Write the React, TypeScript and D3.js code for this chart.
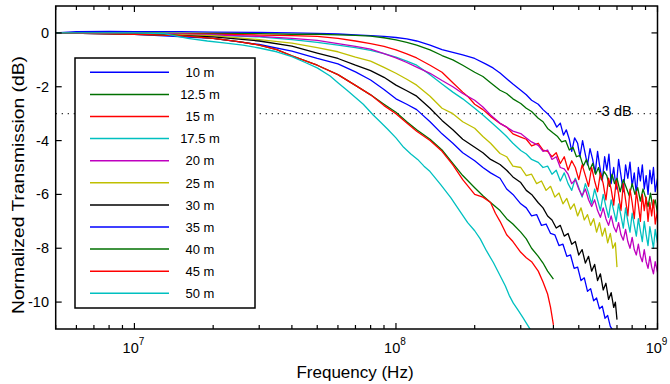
import React from 'react';
import * as d3 from 'd3';

type Pt = [number, number];

// Frequencies in MHz, values in dB
const s10: Pt[] = [[5,0],[6,0.05],[8,0.06],[10,0.05],[15,0.05],[20,0.03],[30,0.02],[40,0],[50,-0.02],[60,-0.04],[70,-0.07],[80,-0.1],[90,-0.13],[100,-0.17],[110,-0.22],[120,-0.3],[135,-0.45],[150,-0.62],[165,-0.72],[180,-0.82],[200,-0.95],[220,-1.15],[235,-1.3],[250,-1.49],[265,-1.7],[280,-1.9],[300,-2.13],[315,-2.3],[330,-2.5],[350,-2.65],[365,-2.85],[380,-3.0],[400,-3.25],[412,-3.5],[425,-3.35],[437,-3.8],[448,-3.6],[460,-3.95],[470,-4.4],[482,-3.9],[495,-4.1],[505,-4.6],[517,-4.0],[528,-4.45],[540,-4.9],[552,-4.3],[565,-4.7],[578,-5.2],[590,-4.4],[600,-4.9],[615,-5.5],[628,-4.6],[640,-5.1],[652,-4.5],[665,-5.6],[680,-5.0],[695,-5.8],[710,-4.7],[725,-5.3],[740,-5.9],[755,-4.9],[770,-5.4],[785,-4.8],[800,-5.7],[815,-5.2],[830,-6.0],[845,-5.0],[860,-5.5],[875,-4.9],[890,-5.8],[905,-5.3],[920,-6.0],[935,-5.1],[950,-5.6],[965,-5.0],[980,-5.9],[1000,-5.4]];
const s12_5: Pt[] = [[5,0],[10,0],[20,-0.02],[30,-0.03],[40,-0.05],[50,-0.05],[60,-0.07],[70,-0.09],[80,-0.12],[90,-0.18],[100,-0.26],[110,-0.35],[120,-0.45],[135,-0.63],[150,-0.84],[165,-1.0],[180,-1.2],[200,-1.46],[215,-1.62],[230,-1.85],[250,-2.13],[265,-2.25],[280,-2.45],[300,-2.62],[315,-2.8],[330,-2.92],[350,-3.17],[365,-3.3],[380,-3.55],[400,-3.73],[415,-3.85],[430,-4.05],[445,-4.0],[460,-4.35],[475,-4.25],[490,-4.6],[505,-4.55],[520,-4.95],[535,-4.7],[550,-5.1],[565,-4.85],[580,-5.25],[595,-5.0],[610,-5.45],[625,-5.15],[640,-5.3],[655,-5.7],[670,-5.25],[685,-5.6],[700,-5.4],[720,-5.9],[740,-5.45],[760,-5.75],[780,-6.05],[800,-5.6],[820,-6.0],[840,-5.75],[860,-6.25],[880,-5.8],[900,-6.1],[920,-6.45],[940,-5.95],[960,-6.5],[980,-6.2],[1000,-6.7]];
const s15: Pt[] = [[5,0],[10,-0.02],[20,-0.05],[30,-0.08],[40,-0.1],[50,-0.13],[60,-0.2],[70,-0.3],[80,-0.4],[90,-0.5],[100,-0.63],[110,-0.78],[120,-0.93],[135,-1.2],[150,-1.46],[165,-1.85],[180,-2.2],[190,-2.4],[200,-2.65],[215,-2.85],[230,-3.1],[250,-3.36],[265,-3.5],[280,-3.75],[300,-3.87],[315,-3.95],[330,-4.2],[350,-4.1],[365,-4.35],[380,-4.4],[395,-4.6],[410,-4.45],[425,-4.85],[440,-4.6],[455,-5.1],[470,-4.75],[485,-5.0],[500,-5.45],[515,-4.9],[530,-5.3],[545,-5.7],[560,-5.0],[575,-5.5],[590,-5.9],[605,-5.2],[620,-5.6],[635,-6.2],[650,-5.4],[665,-5.8],[680,-6.4],[695,-5.5],[710,-6.0],[725,-6.6],[740,-5.6],[755,-6.2],[770,-6.8],[785,-5.8],[800,-6.3],[815,-6.9],[830,-5.9],[845,-6.4],[860,-7.0],[875,-6.0],[890,-6.6],[905,-6.1],[920,-7.0],[935,-6.3],[950,-6.8],[965,-6.2],[980,-7.1],[1000,-6.6]];
const s17_5: Pt[] = [[5,0],[10,-0.02],[20,-0.08],[30,-0.15],[40,-0.25],[50,-0.35],[60,-0.45],[70,-0.55],[80,-0.65],[90,-0.77],[100,-0.9],[110,-1.05],[120,-1.2],[135,-1.55],[150,-1.9],[165,-2.2],[180,-2.45],[200,-2.8],[215,-3.05],[230,-3.3],[250,-3.62],[265,-3.85],[280,-4.1],[300,-4.37],[315,-4.5],[330,-4.7],[350,-4.81],[365,-5.0],[380,-4.95],[395,-5.25],[410,-5.1],[425,-5.5],[440,-5.2],[455,-5.6],[470,-5.85],[485,-5.4],[500,-5.75],[515,-6.1],[530,-5.6],[545,-5.95],[560,-6.35],[575,-5.8],[590,-6.2],[605,-6.6],[620,-6.0],[635,-6.45],[650,-6.85],[665,-6.2],[680,-6.6],[695,-7.0],[710,-6.35],[725,-6.8],[740,-7.25],[755,-6.5],[770,-7.0],[785,-7.4],[800,-6.7],[815,-7.15],[830,-7.55],[845,-6.9],[860,-7.35],[875,-7.75],[890,-7.0],[905,-7.5],[920,-7.9],[935,-7.2],[950,-7.6],[965,-8.0],[980,-7.3],[1000,-7.8]];
const s20: Pt[] = [[5,0],[10,-0.02],[20,-0.07],[30,-0.13],[40,-0.2],[50,-0.28],[60,-0.4],[70,-0.5],[80,-0.6],[90,-0.77],[100,-0.93],[110,-1.1],[120,-1.27],[135,-1.5],[150,-1.77],[165,-2.0],[180,-2.25],[200,-2.5],[215,-2.75],[230,-3.05],[250,-3.36],[265,-3.5],[280,-3.65],[300,-3.74],[315,-3.9],[330,-4.05],[350,-4.18],[365,-4.4],[380,-4.35],[395,-4.7],[410,-4.6],[425,-5.0],[440,-5.05],[455,-5.25],[470,-5.6],[485,-5.45],[500,-5.8],[515,-6.05],[530,-5.8],[545,-6.2],[560,-6.45],[575,-6.2],[590,-6.6],[605,-6.85],[620,-6.5],[635,-6.9],[650,-7.15],[665,-6.8],[680,-7.2],[695,-7.4],[710,-7.05],[725,-7.5],[740,-7.7],[755,-7.3],[770,-7.75],[785,-8.0],[800,-7.6],[815,-8.05],[830,-8.25],[845,-7.85],[860,-8.3],[875,-8.5],[890,-8.05],[905,-8.5],[920,-8.75],[935,-8.3],[950,-8.7],[965,-8.95],[980,-8.5],[1000,-8.9]];
const s25: Pt[] = [[5,0],[10,-0.03],[20,-0.1],[30,-0.25],[40,-0.38],[50,-0.55],[60,-0.7],[70,-0.9],[80,-1.05],[90,-1.28],[100,-1.5],[110,-1.72],[120,-1.94],[135,-2.35],[150,-2.8],[165,-3.0],[180,-3.3],[200,-3.54],[215,-3.85],[230,-4.1],[250,-4.48],[265,-4.6],[280,-4.95],[300,-5.0],[315,-5.3],[330,-5.25],[345,-5.6],[360,-5.5],[375,-5.85],[390,-5.7],[405,-6.1],[420,-5.95],[435,-6.35],[450,-6.15],[465,-6.55],[480,-6.35],[495,-6.8],[510,-6.5],[525,-6.95],[540,-6.75],[555,-7.15],[570,-6.9],[585,-7.4],[600,-7.05],[615,-7.55],[630,-7.25],[645,-7.8],[660,-7.45],[675,-8.0],[690,-7.8],[700,-8.7]];
const s30: Pt[] = [[5,0],[10,-0.03],[20,-0.15],[30,-0.3],[40,-0.49],[50,-0.75],[60,-0.95],[70,-1.2],[80,-1.4],[90,-1.65],[100,-1.94],[110,-2.15],[120,-2.35],[135,-2.8],[150,-3.25],[165,-3.6],[180,-3.95],[200,-4.25],[215,-4.45],[230,-4.7],[250,-4.89],[265,-5.1],[280,-5.35],[300,-5.56],[315,-5.85],[330,-6.0],[350,-6.31],[365,-6.5],[380,-6.8],[395,-6.95],[410,-7.25],[425,-7.15],[440,-7.55],[455,-7.45],[470,-7.85],[485,-7.75],[500,-8.25],[515,-8.05],[530,-8.55],[545,-8.3],[560,-8.85],[575,-8.6],[590,-9.2],[605,-8.95],[620,-9.55],[635,-9.3],[650,-9.9],[665,-9.65],[680,-10.2],[690,-10.0],[700,-10.65]];
const s35: Pt[] = [[5,0],[10,-0.05],[20,-0.2],[30,-0.43],[40,-0.68],[50,-0.95],[60,-1.15],[70,-1.45],[80,-1.75],[90,-2.1],[100,-2.45],[110,-2.65],[120,-2.85],[135,-3.3],[150,-3.75],[165,-4.1],[180,-4.45],[200,-4.75],[215,-5.0],[230,-5.2],[250,-5.4],[265,-5.8],[280,-6.0],[300,-6.35],[315,-6.5],[330,-6.8],[345,-6.75],[360,-7.15],[375,-7.1],[390,-7.45],[405,-7.5],[420,-7.9],[435,-7.85],[450,-8.3],[465,-8.25],[480,-8.75],[495,-8.7],[510,-9.2],[525,-9.1],[540,-9.6],[555,-9.5],[570,-9.95],[585,-9.85],[600,-10.25],[615,-10.15],[630,-10.6],[645,-10.5],[660,-10.9],[675,-11.05]];
const s40: Pt[] = [[5,0],[10,-0.05],[15,-0.1],[20,-0.2],[25,-0.32],[30,-0.45],[35,-0.62],[40,-0.85],[50,-1.2],[60,-1.55],[70,-1.95],[80,-2.3],[90,-2.65],[100,-2.95],[110,-3.3],[120,-3.6],[135,-3.95],[150,-4.35],[165,-4.85],[180,-5.3],[200,-5.75],[215,-6.05],[230,-6.3],[250,-6.6],[265,-6.9],[280,-7.1],[300,-7.4],[315,-7.65],[330,-8.0],[350,-8.3],[365,-8.55],[380,-8.85],[400,-9.15]];
const s45: Pt[] = [[5,0],[10,-0.05],[15,-0.1],[20,-0.2],[25,-0.32],[30,-0.45],[35,-0.62],[40,-0.85],[50,-1.2],[60,-1.55],[70,-1.95],[80,-2.3],[90,-2.7],[100,-3.0],[110,-3.35],[120,-3.65],[135,-4.0],[150,-4.4],[165,-4.9],[180,-5.45],[200,-6.0],[215,-6.1],[230,-6.3],[240,-6.7],[250,-7.0],[265,-7.5],[280,-7.75],[300,-8.15],[315,-8.35],[330,-8.5],[350,-8.85],[365,-9.25],[380,-9.7],[390,-10.2],[400,-10.85]];
const s50: Pt[] = [[5,0],[10,0],[13,-0.03],[16,-0.2],[19,-0.3],[22,-0.37],[26,-0.45],[30,-0.56],[35,-0.7],[40,-0.88],[45,-1.1],[50,-1.3],[56,-1.6],[60,-1.85],[65,-2.13],[70,-2.4],[75,-2.65],[82,-3.06],[87,-3.3],[93,-3.58],[100,-3.9],[107,-4.25],[114,-4.5],[121,-4.7],[128,-4.95],[135,-5.15],[148,-5.63],[162,-6.12],[175,-6.6],[188,-7.05],[200,-7.35],[210,-7.65],[222,-8.1],[236,-8.54],[248,-8.95],[262,-9.4],[271,-9.75],[281,-10.04],[293,-10.3],[305,-10.56],[316,-10.8],[327,-11.03]];

const seriesNames = ['10 m', '12.5 m', '15 m', '17.5 m', '20 m', '25 m', '30 m', '35 m', '40 m', '45 m', '50 m'];
const seriesColors = ['#0000ff', '#007000', '#ff0000', '#00c0c0', '#bf00bf', '#bfbf00', '#000000', '#0000ff', '#007000', '#ff0000', '#00c0c0'];
const seriesData = [s10, s12_5, s15, s17_5, s20, s25, s30, s35, s40, s45, s50];

const yTicks = [0, -2, -4, -6, -8, -10];
const xDecades = [7, 8, 9];
const thresholdDb = -3;
const thresholdLabel = '-3 dB';
const xLabel = 'Frequency (Hz)';
const yLabel = 'Normalized Transmission (dB)';

const FONT = '"Liberation Sans", Arial, Helvetica, sans-serif';

export default function App() {
  const L = 55.7, R = 657.5, T = 6, B = 329;
  const x = d3.scaleLog().domain([5e6, 1e9]).range([L, R]);
  const y = d3.scaleLinear().domain([-11, 1]).range([B, T]);
  const line = d3.line<Pt>().x(d => x(d[0] * 1e6)).y(d => y(d[1]));
  const xt = x.ticks();
  const isMajor = (v: number) => Math.abs(Math.log10(v) - Math.round(Math.log10(v))) < 1e-9;

  const legX = 75, legY = 58, legW = 180, legH = 250;
  const rowY0 = 72.3, rowStep = 22.1;

  return (
    <svg width={670} height={384} style={{ position: 'absolute', left: 0, top: 0, background: '#fff' }} fontFamily={FONT}>
      <rect x={0} y={0} width={670} height={384} fill="#fff" />
      <defs>
        <clipPath id="plotclip">
          <rect x={L} y={T} width={R - L} height={B - T} />
        </clipPath>
      </defs>
      <line x1={L} x2={R} y1={y(thresholdDb)} y2={y(thresholdDb)} stroke="#222" strokeWidth={1.2} strokeDasharray="1.2 4.8" />
      <g clipPath="url(#plotclip)">
        {seriesData.map((d, i) => (
          <path key={i} d={line(d) || ''} fill="none" stroke={seriesColors[i]} strokeWidth={1.3} strokeLinejoin="round" />
        ))}
      </g>
      <text x={597} y={y(thresholdDb) + 2.5} fontSize={14.5} fill="#000">{thresholdLabel}</text>
      <rect x={L} y={T} width={R - L} height={B - T} fill="none" stroke="#000" strokeWidth={1.5} />
      {xt.map((v, i) => {
        const len = isMajor(v) ? 6 : 4;
        const px = x(v);
        return (
          <g key={i}>
            <line x1={px} x2={px} y1={B} y2={B - len} stroke="#000" strokeWidth={1.2} />
            <line x1={px} x2={px} y1={T} y2={T + len} stroke="#000" strokeWidth={1.2} />
          </g>
        );
      })}
      {yTicks.map((v, i) => (
        <g key={i}>
          <line x1={L} x2={L + 6} y1={y(v)} y2={y(v)} stroke="#000" strokeWidth={1.2} />
          <line x1={R} x2={R - 6} y1={y(v)} y2={y(v)} stroke="#000" strokeWidth={1.2} />
          <text x={49} y={y(v) + 5} fontSize={14.5} textAnchor="end" fill="#000">{v}</text>
        </g>
      ))}
      {xDecades.map((e, i) => (
        <text key={i} x={x(Math.pow(10, e)) - 1} y={353} fontSize={14.5} textAnchor="middle" fill="#000">
          10<tspan fontSize={10} dy={-8}>{e}</tspan>
        </text>
      ))}
      <text x={355} y={378} fontSize={17} textAnchor="middle" fill="#000">{xLabel}</text>
      <text transform="translate(24,185) rotate(-90)" fontSize={17} textAnchor="middle" fill="#000" textLength={258} lengthAdjust="spacingAndGlyphs">{yLabel}</text>
      <rect x={legX} y={legY} width={legW} height={legH} fill="#fff" stroke="#000" strokeWidth={1.5} />
      {seriesNames.map((n, i) => (
        <g key={i}>
          <line x1={90} x2={169} y1={rowY0 + i * rowStep} y2={rowY0 + i * rowStep} stroke={seriesColors[i]} strokeWidth={1.5} />
          <text x={200} y={rowY0 + i * rowStep + 4.7} fontSize={13} textAnchor="middle" fill="#000">{n}</text>
        </g>
      ))}
    </svg>
  );
}
